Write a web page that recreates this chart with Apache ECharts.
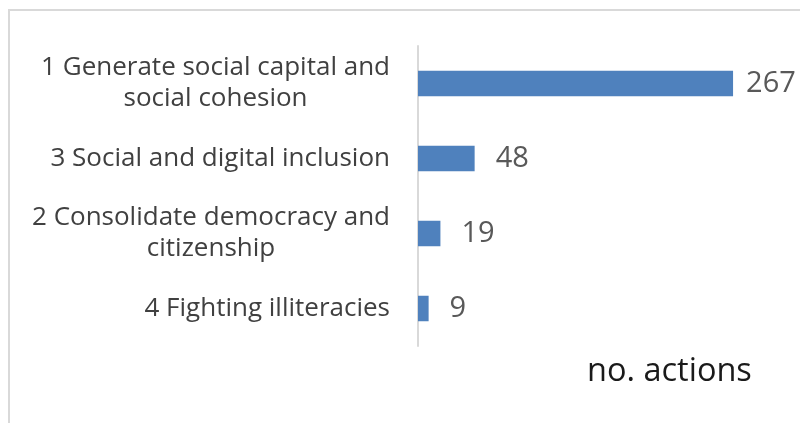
<!DOCTYPE html>
<html>
<head>
<meta charset="utf-8">
<script src="https://cdn.jsdelivr.net/npm/echarts@6/dist/echarts.min.js"></script>
<style>
html,body{margin:0;padding:0;background:#fff;}
#chart{width:800px;height:423px;}
</style>
</head>
<body>
<div id="chart"></div>
<script>
var categories = [
  "1 Generate social capital and\nsocial cohesion",
  "3 Social and digital inclusion",
  "2 Consolidate democracy and\ncitizenship",
  "4 Fighting illiteracies"
];
var values = [267, 48, 19, 9];
var axisTitle = "no. actions";

// the longest bar's label sits closer to its bar so it fits inside the frame
var seriesData = values.map(function (v, i) {
  return i === 0 ? { value: v, label: { distance: 13 } } : v;
});

var chart = echarts.init(document.getElementById('chart'));
chart.setOption({
  animation: false,
  backgroundColor: '#ffffff',
  graphic: [
    {
      type: 'polyline',
      shape: { points: [[9, 423], [9, 10], [800, 10]] },
      style: { stroke: '#d9d9d9', lineWidth: 2, fill: null },
      silent: true
    },
    {
      type: 'text',
      left: 587,
      top: 355,
      style: { text: axisTitle, font: '32.5px "Open Sans"', fill: '#1a1a1a' }
    }
  ],
  grid: { left: 418, top: 46, width: 354, height: 300, containLabel: false },
  xAxis: {
    type: 'value',
    min: 0,
    max: 300,
    axisLine: { show: false },
    axisTick: { show: false },
    axisLabel: { show: false },
    splitLine: { show: false }
  },
  yAxis: {
    type: 'category',
    inverse: true,
    data: categories,
    axisLine: { show: true, lineStyle: { color: '#d9d9d9', width: 2 } },
    axisTick: { show: false },
    axisLabel: {
      margin: 28,
      align: 'right',
      formatter: function (v) {
        return v.split('\n').map(function (s) { return '{c|' + s + '}'; }).join('\n');
      },
      rich: {
        c: {
          align: 'center',
          color: '#404040',
          fontFamily: 'Open Sans',
          fontSize: 26,
          lineHeight: 31
        }
      }
    }
  },
  series: [{
    type: 'bar',
    data: seriesData,
    barWidth: '34%',
    itemStyle: { color: '#4f81bd' },
    label: {
      show: true,
      position: 'right',
      distance: 21,
      color: '#595959',
      fontFamily: 'Open Sans',
      fontSize: 29
    }
  }]
});
</script>
</body>
</html>
